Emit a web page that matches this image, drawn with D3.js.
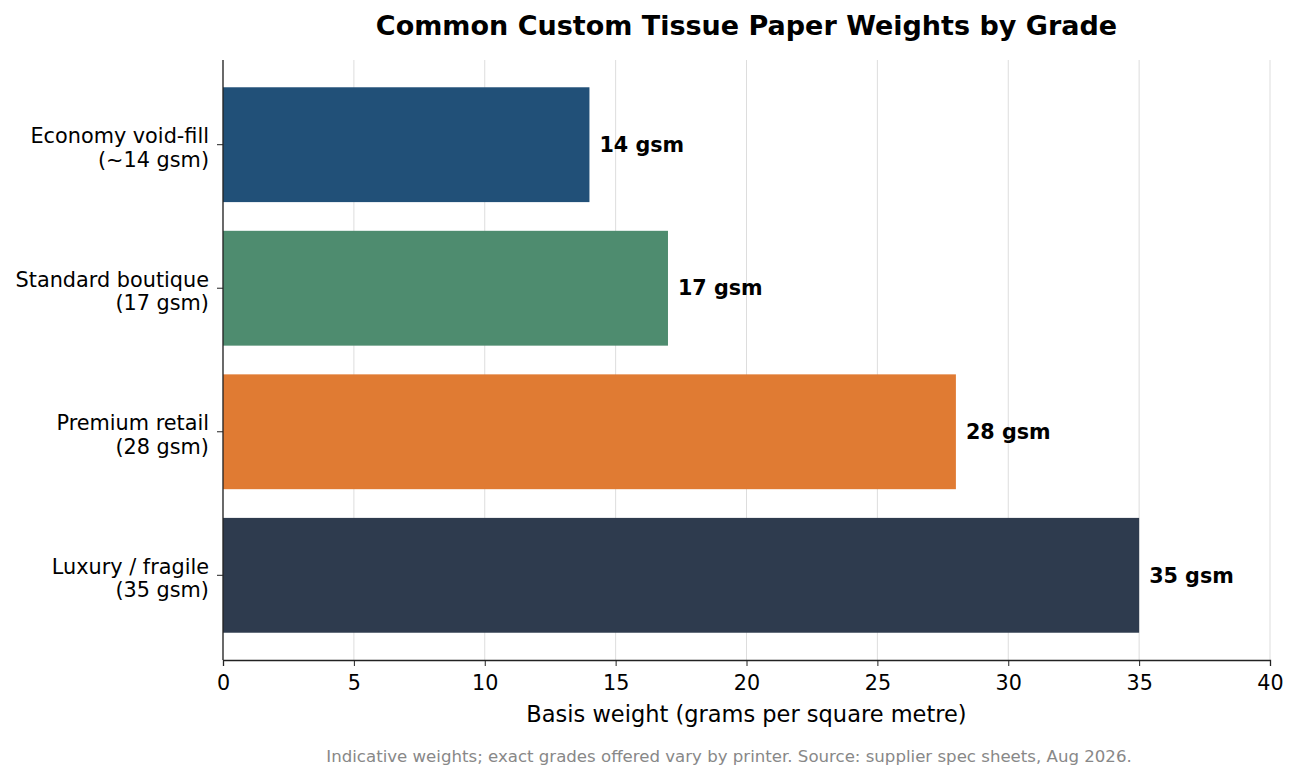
<!DOCTYPE html>
<html>
<head>
<meta charset="utf-8">
<script src="https://cdn.jsdelivr.net/npm/d3@7.9.0/dist/d3.min.js"></script>
<style>
  body { margin: 0; background: #fff; }
  text { font-family: "DejaVu Sans", sans-serif; }
</style>
</head>
<body>
<svg id="chart"></svg>
<script>
const grades = ["Economy void-fill\n(~14 gsm)", "Standard boutique\n(17 gsm)", "Premium retail\n(28 gsm)", "Luxury / fragile\n(35 gsm)"];
const weights = [14, 17, 28, 35];
const barLabels = ["14 gsm", "17 gsm", "28 gsm", "35 gsm"];
const barColors = ["#215078", "#4e8c6f", "#e07b33", "#2e3b4e"];
const xTicks = [0, 5, 10, 15, 20, 25, 30, 35, 40];

const W = 1297, H = 781;
const margin = {top: 60, right: 27, bottom: 121, left: 223};
const width = W - margin.left - margin.right, height = H - margin.top - margin.bottom;

const svg = d3.select("#chart").attr("width", W).attr("height", H);
const g = svg.append("g").attr("transform", `translate(${margin.left},${margin.top})`);

const x = d3.scaleLinear().domain([0, 40]).range([0, width]);
// matplotlib-style y: bars of height 0.8 at integer positions, 5% margins
const y = d3.scaleLinear().domain([-0.59, 3.59]).range([0, height]);
const barH = y(0.8) - y(0);

// gridlines
g.append("g").selectAll("line").data(xTicks).enter().append("line")
  .attr("x1", d => x(d)).attr("x2", d => x(d))
  .attr("y1", 0).attr("y2", height)
  .attr("stroke", "#dddddd").attr("stroke-width", 1);

// bars
g.selectAll(".bar").data(weights).enter().append("rect")
  .attr("class", "bar")
  .attr("x", x(0))
  .attr("y", (d, i) => y(i) - barH / 2)
  .attr("width", d => x(d) - x(0))
  .attr("height", barH)
  .attr("fill", (d, i) => barColors[i]);

// value labels
g.selectAll(".val").data(weights).enter().append("text")
  .attr("class", "val")
  .attr("x", d => x(d) + 10)
  .attr("y", (d, i) => y(i))
  .attr("dy", "0.35em")
  .attr("font-size", 20.7)
  .attr("font-weight", "bold")
  .text((d, i) => barLabels[i]);

// x axis
const xAxis = g.append("g").attr("transform", `translate(0,${height})`)
  .call(d3.axisBottom(x).tickValues(xTicks).tickSize(6).tickPadding(9));
xAxis.select(".domain").attr("stroke", "#222").attr("stroke-width", 1.3);
xAxis.selectAll(".tick line").attr("stroke", "#222");
xAxis.selectAll("text").attr("font-size", 20.7).attr("fill", "#000")
  .style("font-family", "DejaVu Sans, sans-serif");

// y axis
const yAxis = g.append("g");
yAxis.append("line").attr("x1", 0).attr("x2", 0).attr("y1", 0).attr("y2", height)
  .attr("stroke", "#222").attr("stroke-width", 1.3);
const yt = yAxis.selectAll(".ytick").data(grades).enter().append("g")
  .attr("transform", (d, i) => `translate(0,${y(i)})`);
yt.append("line").attr("x1", -6).attr("x2", 0).attr("stroke", "#222");
yt.append("text")
  .attr("text-anchor", "end")
  .attr("font-size", 20.8)
  .selectAll("tspan").data(d => d.split("\n")).enter().append("tspan")
  .attr("x", -14)
  .attr("y", (d, i, n) => 3 + (i - (n.length - 1) / 2) * 23.5)
  .attr("dy", "0.35em")
  .text(d => d);

// title
svg.append("text").attr("x", margin.left + width / 2).attr("y", 35)
  .attr("text-anchor", "middle").attr("font-size", 27).attr("font-weight", "bold")
  .text("Common Custom Tissue Paper Weights by Grade");

// x label
svg.append("text").attr("x", margin.left + width / 2).attr("y", 722)
  .attr("text-anchor", "middle").attr("font-size", 22.5)
  .text("Basis weight (grams per square metre)");

// footnote
svg.append("text").attr("x", 729).attr("y", 762)
  .attr("text-anchor", "middle").attr("font-size", 16.6).attr("fill", "#888")
  .text("Indicative weights; exact grades offered vary by printer. Source: supplier spec sheets, Aug 2026.");
</script>
</body>
</html>
